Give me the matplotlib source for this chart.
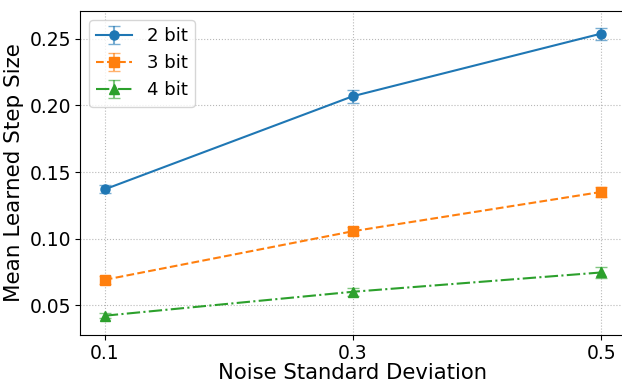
import matplotlib
matplotlib.use("Agg")
import matplotlib.pyplot as plt

noise_std = [0.1, 0.3, 0.5]

step_2bit = [0.137, 0.207, 0.254]
err_2bit = [0.003, 0.005, 0.0045]
step_3bit = [0.069, 0.1055, 0.135]
err_3bit = [0.003, 0.003, 0.004]
step_4bit = [0.042, 0.060, 0.0745]
err_4bit = [0.002, 0.003, 0.004]

series = [
    ("2 bit", step_2bit, err_2bit, "o", "-", "#1f77b4"),
    ("3 bit", step_3bit, err_3bit, "s", "--", "#ff7f0e"),
    ("4 bit", step_4bit, err_4bit, "^", "-.", "#2ca02c"),
]

fig = plt.figure(figsize=(6.22, 3.83), dpi=100)
ax = fig.add_axes([80 / 622, 48 / 383, 546 / 622, 324 / 383])

for label, vals, errs, marker, ls, color in series:
    cont = ax.errorbar(noise_std, vals, yerr=errs, label=label, marker=marker,
                       linestyle=ls, color=color, capsize=4, markersize=6.5,
                       linewidth=1.5)
    for cap in cont[1]:
        cap.set_alpha(0.6)
    for bar in cont[2]:
        bar.set_alpha(0.6)

ax.set_xlim(0.08, 0.52)
ax.set_ylim(0.0275, 0.271)
ax.set_xticks(noise_std)
ax.set_xticklabels(["0.1", "0.3", "0.5"])
ax.set_xlabel("Noise Standard Deviation", fontsize=15.2, labelpad=0)
ax.set_ylabel("Mean Learned Step Size", fontsize=15.5, labelpad=4)
ax.tick_params(labelsize=13.5, pad=3)
ax.grid(True, linestyle=":", color="#999999", alpha=0.7)
ax.legend(fontsize=13, loc="upper left")

fig.savefig("out.png")
